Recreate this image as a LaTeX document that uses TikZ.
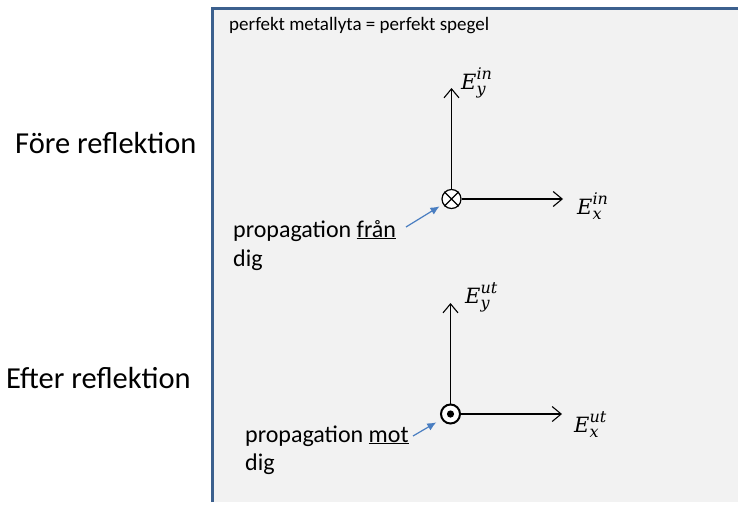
\documentclass[tikz,border=0pt]{standalone}
\usepackage{fontspec}
\setmainfont{Carlito}
\newfontfamily\fieldfont{DejaVu Serif}
\usetikzlibrary{arrows.meta}
\definecolor{panelfill}{RGB}{242,242,242}
\definecolor{paneledge}{RGB}{60,96,142}
\definecolor{pointer}{RGB}{74,126,193}
% field component label: italic letter with sub- and superscript
\newcommand{\fieldlabel}[3]{$\mbox{\fieldfont\itshape\fontsize{21}{24}\selectfont #1}_{\mbox{\fieldfont\itshape\fontsize{16}{18}\selectfont #2}}^{\mbox{\fieldfont\itshape\fontsize{16}{18}\selectfont #3}}$}
\tikzset{
  axis/.style={line width=1.1pt, -{Straight Barb[length=9pt,width=15pt,line width=1.1pt]}},
  pointerarrow/.style={pointer, line width=1.2pt, -{Latex[length=9pt,width=8pt]}},
  marker/.style={circle, draw, line width=1.2pt, minimum size=19pt, inner sep=0pt, fill=white},
  label/.style={anchor=base west, inner sep=0pt, font=\fontsize{24}{29}\selectfont},
  side/.style={anchor=base west, inner sep=0pt, font=\fontsize{30.5}{36}\selectfont},
  field/.style={anchor=base west, inner sep=0pt, font=\fontsize{21}{25}\selectfont}
}
\begin{document}
\begin{tikzpicture}[x=1pt,y=-1pt]
\useasboundingbox (0,0) rectangle (738,504);
% mirror panel
\fill[panelfill] (212,8) rectangle (738,502);
\draw[paneledge, line width=3pt] (212.5,502) -- (212.5,8.5) -- (738,8.5);

\node[anchor=base west, inner sep=0pt, font=\fontsize{19}{22}\selectfont] (title) at (229,30) {perfekt metallyta = perfekt spegel};

\node[side] (fore) at (15,153) {Före reflektion};
\node[side] (efter) at (6,388) {Efter reflektion};

% incoming wave
\node[marker] (o1) at (451.5,199) {};
\draw[line width=1.1pt] (o1.north west) -- (o1.south east) (o1.north east) -- (o1.south west);
\coordinate (y1) at (451.5,88);
\coordinate (x1) at (563,199);
\draw[axis] (o1.north) -- (y1);
\draw[axis] (o1.east) -- (x1);
\node[field] (ey1) at (461,89) {\fieldlabel{E}{y}{in}};
\node[field] (ex1) at (577,214) {\fieldlabel{E}{x}{in}};
\node[label] (p1) at (233,237) {propagation \underline{från}};
\node[label] (d1) at (233,266) {dig};
\coordinate (a1) at (406,227);
\draw[pointerarrow, shorten >=4pt] (a1) -- (o1);

% reflected wave
\node[marker, line width=2pt] (o2) at (450.5,414) {};
\fill (o2.center) circle (3.6pt);
\coordinate (y2) at (450.5,303);
\coordinate (x2) at (562,414);
\draw[axis] (o2.north) -- (y2);
\draw[axis] (o2.east) -- (x2);
\node[field] (ey2) at (465,303) {\fieldlabel{E}{y}{ut}};
\node[field] (ex2) at (574,432) {\fieldlabel{E}{x}{ut}};
\node[label] (p2) at (245,442) {propagation \underline{mot}};
\node[label] (d2) at (245,470) {dig};
\coordinate (a2) at (413,436);
\draw[pointerarrow, shorten >=6pt] (a2) -- (o2);
\end{tikzpicture}
\end{document}
